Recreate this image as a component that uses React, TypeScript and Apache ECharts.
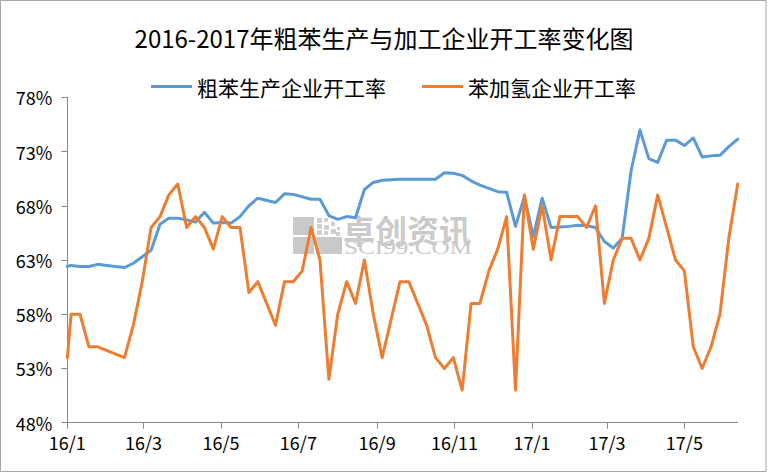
import React, { useEffect, useRef } from "react";
import * as echarts from "echarts";

const TITLE = "2016-2017年粗苯生产与加工企业开工率变化图";
const SERIES_NAMES = ["粗苯生产企业开工率", "苯加氢企业开工率"];
const SERIES_COLORS = ["#5B9BD5", "#ED7D31"];

const X_MIN_DATE = "2016-01-01";
const X_MAX_DATE = "2017-06-12";
const X_TICK_DATES = [
  "2016-01-01", "2016-03-01", "2016-05-01", "2016-07-01", "2016-09-01",
  "2016-11-01", "2017-01-01", "2017-03-01", "2017-05-01",
];
const Y_MIN = 48;
const Y_MAX = 78;
const Y_STEP = 5;

const crudeDates = [
  "2016-01-01", "2016-01-04", "2016-01-11", "2016-01-18", "2016-01-25", "2016-02-01",
  "2016-02-15", "2016-02-22", "2016-02-29", "2016-03-07", "2016-03-14", "2016-03-21",
  "2016-03-28", "2016-04-04", "2016-04-11", "2016-04-18", "2016-04-25", "2016-05-02",
  "2016-05-09", "2016-05-16", "2016-05-23", "2016-05-30", "2016-06-13", "2016-06-20",
  "2016-06-27", "2016-07-11", "2016-07-18", "2016-07-25", "2016-08-01", "2016-08-08",
  "2016-08-15", "2016-08-22", "2016-08-29", "2016-09-05", "2016-09-12", "2016-09-19",
  "2016-09-26", "2016-10-03", "2016-10-10", "2016-10-17", "2016-10-24", "2016-10-31",
  "2016-11-07", "2016-11-14", "2016-11-21", "2016-11-28", "2016-12-05", "2016-12-12",
  "2016-12-19", "2016-12-26", "2017-01-02", "2017-01-09", "2017-01-16", "2017-01-23",
  "2017-01-30", "2017-02-06", "2017-02-13", "2017-02-20", "2017-02-27", "2017-03-06",
  "2017-03-13", "2017-03-20", "2017-03-27", "2017-04-03", "2017-04-10", "2017-04-17",
  "2017-04-24", "2017-05-01", "2017-05-08", "2017-05-15", "2017-05-22", "2017-05-29",
  "2017-06-05", "2017-06-12",
];
const crudeValues = [
  62.4, 62.5, 62.4, 62.4, 62.6, 62.5,
  62.3, 62.7, 63.3, 63.9, 66.3, 66.85,
  66.85, 66.7, 66.5, 67.4, 66.4, 66.45,
  66.4, 67.0, 68.0, 68.7, 68.3, 69.1,
  69.05, 68.6, 68.6, 67.1, 66.75, 67.0,
  66.9, 69.5, 70.15, 70.35, 70.4, 70.45,
  70.45, 70.45, 70.45, 70.45, 71.05, 71.0,
  70.8, 70.3, 69.9, 69.6, 69.3, 69.25,
  66.1, 68.85, 65.15, 68.7, 66.0, 66.05,
  66.1, 66.2, 66.15, 66.0, 64.7, 64.1,
  65.0, 71.2, 75.0, 72.35, 72.0, 74.05,
  74.05, 73.55, 74.25, 72.5, 72.6, 72.65,
  73.45, 74.15,
];

const hydroDates = [
  "2016-01-01", "2016-01-04", "2016-01-11", "2016-01-18", "2016-01-25", "2016-02-15",
  "2016-02-22", "2016-02-29", "2016-03-07", "2016-03-14", "2016-03-21", "2016-03-28",
  "2016-04-04", "2016-04-11", "2016-04-18", "2016-04-25", "2016-05-02", "2016-05-09",
  "2016-05-16", "2016-05-23", "2016-05-30", "2016-06-13", "2016-06-20", "2016-06-27",
  "2016-07-04", "2016-07-11", "2016-07-18", "2016-07-25", "2016-08-01", "2016-08-08",
  "2016-08-15", "2016-08-22", "2016-08-29", "2016-09-05", "2016-09-19", "2016-09-26",
  "2016-10-03", "2016-10-10", "2016-10-17", "2016-10-24", "2016-10-31", "2016-11-07",
  "2016-11-14", "2016-11-21", "2016-11-28", "2016-12-05", "2016-12-12", "2016-12-19",
  "2016-12-26", "2017-01-02", "2017-01-09", "2017-01-16", "2017-01-23", "2017-01-30",
  "2017-02-06", "2017-02-13", "2017-02-20", "2017-02-27", "2017-03-06", "2017-03-13",
  "2017-03-20", "2017-03-27", "2017-04-03", "2017-04-10", "2017-04-17", "2017-04-24",
  "2017-05-01", "2017-05-08", "2017-05-15", "2017-05-22", "2017-05-29", "2017-06-05",
  "2017-06-12",
];
const hydroValues = [
  54, 58, 58, 55, 55, 54,
  57, 61, 66, 67, 69, 70,
  66, 67, 66, 64, 67, 66,
  66, 60, 61, 57, 61, 61,
  62, 66, 63, 52, 58, 61,
  59, 63, 58, 54, 61, 61,
  59, 57, 54, 53, 54, 51,
  59, 59, 62, 64, 67, 51,
  69, 64, 68, 63, 67, 67,
  67, 66, 68, 59, 63, 65,
  65, 63, 65, 69, 66, 63,
  62, 55, 53, 55, 58, 65,
  70,
];

const FONT = "'Noto Sans CJK SC', 'Noto Sans', sans-serif";
const ts = (d: string) => new Date(d + "T00:00:00Z").getTime();
const pairs = (dates: string[], vals: number[]) => dates.map((d, i) => [ts(d), vals[i]]);

const logoSquares: [number, number, number][] = [
  [317, 218, 5], [324, 218, 4], [317, 224, 5], [324, 225, 5], [331, 222, 4],
  [317, 230, 5], [324, 231, 4], [331, 229, 5], [337, 227, 3], [336, 232, 4],
];

export default function App() {
  const ref = useRef<HTMLDivElement>(null);
  useEffect(() => {
    const chart = echarts.init(ref.current!, null, { renderer: "svg" });
    const option: any = {
      animation: false,
      backgroundColor: "#ffffff",
      title: {
        text: TITLE,
        left: "center",
        top: 20,
        textStyle: { fontFamily: FONT, fontSize: 24, fontWeight: "normal", color: "#000" },
      },
      legend: {
        data: SERIES_NAMES,
        left: 146,
        top: 71,
        icon: "rect",
        itemWidth: 41,
        itemHeight: 3,
        itemGap: 36,
        textStyle: { fontFamily: FONT, fontSize: 21, color: "#000" },
      },
      grid: { left: 67.3, right: 30.3, top: 97.3, bottom: 50.3, containLabel: false },
      xAxis: {
        type: "value",
        min: ts(X_MIN_DATE),
        max: ts(X_MAX_DATE),
        axisLine: { show: true, lineStyle: { color: "#898989", width: 1 } },
        axisTick: {
          show: true,
          length: 6,
          lineStyle: { color: "#898989" },
          customValues: X_TICK_DATES.map(ts),
        },
        axisLabel: {
          customValues: X_TICK_DATES.map(ts),
          margin: 10,
          fontFamily: FONT,
          fontSize: 18,
          color: "#000",
          formatter: (v: number) => {
            const d = new Date(v);
            return `${String(d.getUTCFullYear()).slice(2)}/${d.getUTCMonth() + 1}`;
          },
        },
        splitLine: { show: false },
      },
      yAxis: {
        type: "value",
        min: Y_MIN,
        max: Y_MAX,
        interval: Y_STEP,
        axisLine: { show: true, lineStyle: { color: "#898989", width: 1 } },
        axisTick: { show: true, length: 6, lineStyle: { color: "#898989" } },
        axisLabel: {
          margin: 15,
          fontFamily: FONT,
          fontSize: 18,
          color: "#000",
          formatter: "{value}%",
        },
        splitLine: { show: false },
      },
      graphic: [
        {
          type: "rect",
          z: 0,
          shape: { x: 0.5, y: 0.5, width: 765.5, height: 471 },
          style: { fill: "none", stroke: "#A6A6A6", lineWidth: 1 },
        },
        { type: "rect", z: 1, shape: { x: 293, y: 217, width: 21, height: 18 }, style: { fill: "#C9C9C9" } },
        { type: "rect", z: 1, shape: { x: 293, y: 237, width: 21, height: 17 }, style: { fill: "#C9C9C9" } },
        { type: "rect", z: 1, shape: { x: 316, y: 237, width: 26, height: 17 }, style: { fill: "#C9C9C9" } },
        ...logoSquares.map(([x, y, s]) => ({
          type: "rect",
          z: 1,
          shape: { x, y, width: s, height: s },
          style: { fill: "#D0D0D0" },
        })),
        {
          type: "text",
          z: 1,
          x: 343,
          y: 229,
          style: {
            text: "卓创资讯",
            font: `bold 32px ${FONT}`,
            fill: "#CBCBCB",
            verticalAlign: "middle",
            textVerticalAlign: "middle",
          },
        },
        {
          type: "text",
          z: 1,
          x: 344,
          y: 248,
          scaleX: 1.4,
          style: {
            text: "SCI99.COM",
            font: "18px 'Liberation Serif', serif",
            fill: "#C9C9C9",
            verticalAlign: "middle",
            textVerticalAlign: "middle",
          },
        },
      ],
      series: [
        {
          name: SERIES_NAMES[0],
          type: "line",
          data: pairs(crudeDates, crudeValues),
          showSymbol: false,
          symbol: "none",
          color: SERIES_COLORS[0],
          lineStyle: { color: SERIES_COLORS[0], width: 3, cap: "round", join: "round" },
          z: 3,
        },
        {
          name: SERIES_NAMES[1],
          type: "line",
          data: pairs(hydroDates, hydroValues),
          showSymbol: false,
          symbol: "none",
          color: SERIES_COLORS[1],
          lineStyle: { color: SERIES_COLORS[1], width: 3, cap: "round", join: "round" },
          z: 4,
        },
      ],
    };
    chart.setOption(option);
    return () => chart.dispose();
  }, []);
  return (
    <div
      ref={ref}
      style={{ position: "fixed", left: 0, top: 0, width: 768, height: 473, background: "#fff" }}
    />
  );
}
